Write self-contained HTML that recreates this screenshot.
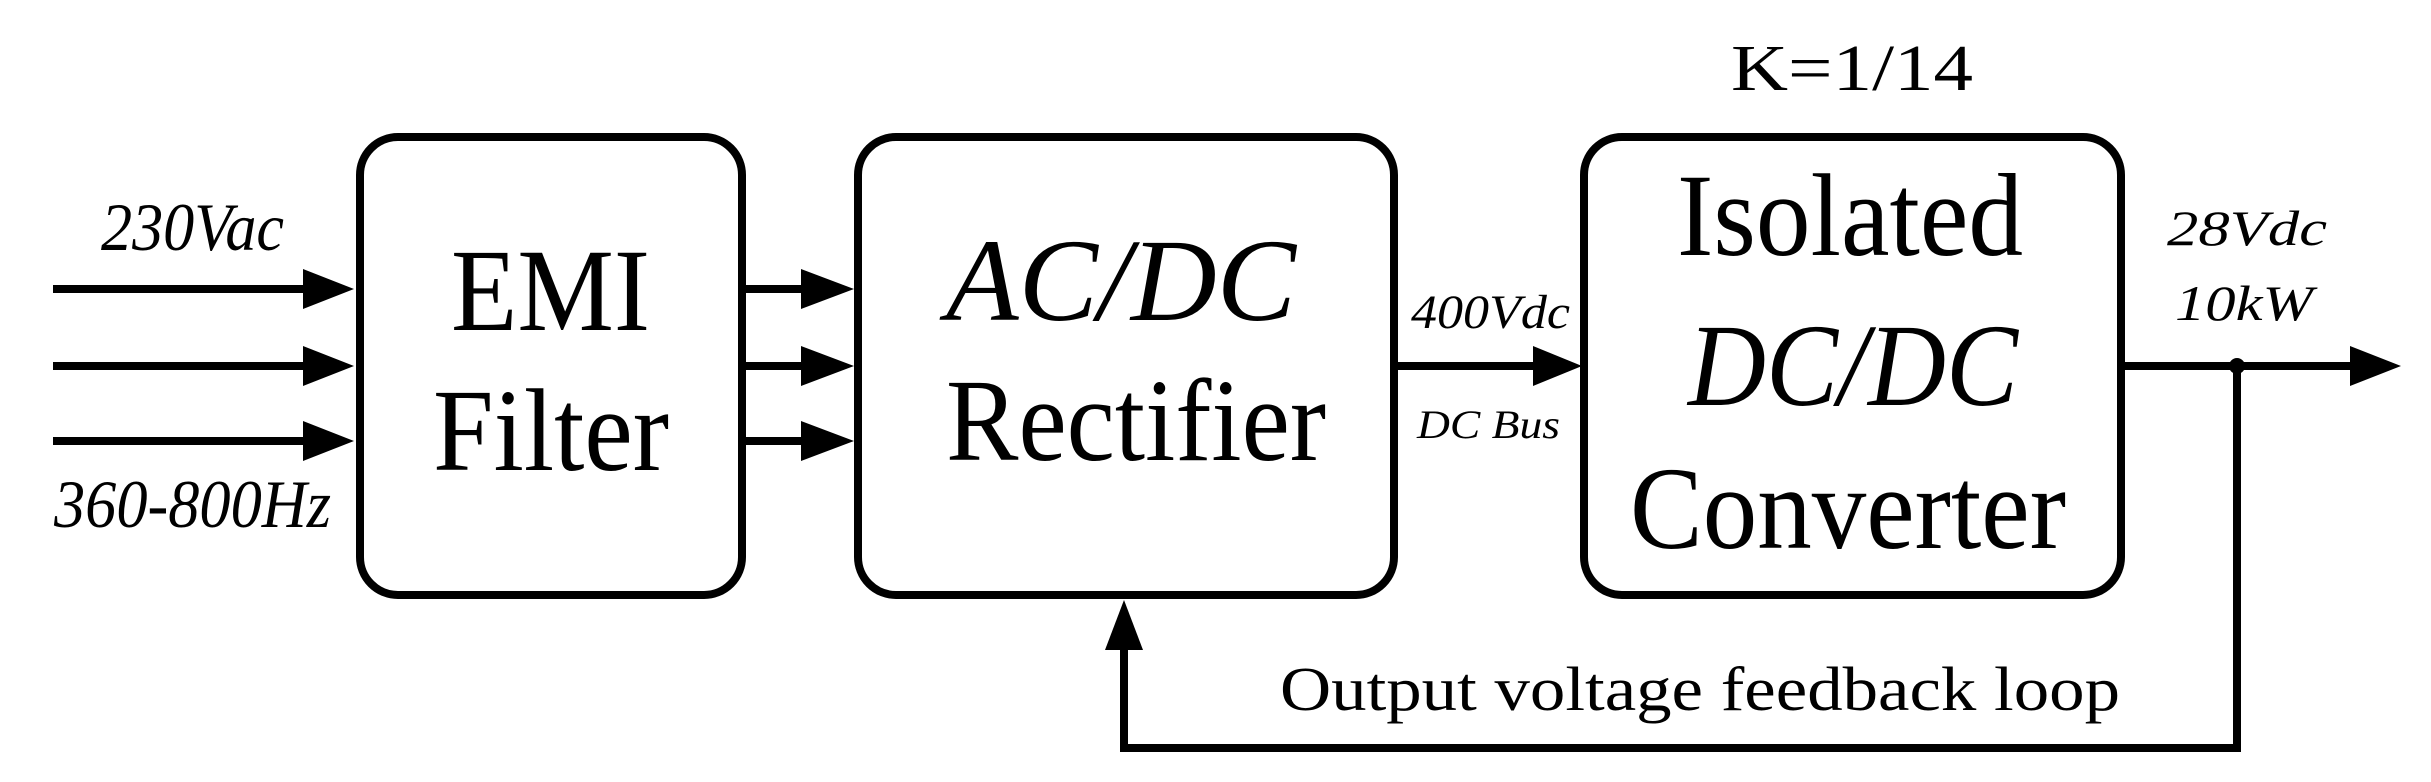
<!DOCTYPE html>
<html><head><meta charset="utf-8"><style>html,body{margin:0;padding:0;background:#fff}svg{display:block}svg text{font-family:"Liberation Serif","Times New Roman",serif}</style></head>
<body>
<svg width="2431" height="782" viewBox="0 0 2431 782" xmlns="http://www.w3.org/2000/svg" fill="#000">
<g fill="none" stroke="#000" stroke-width="8">
<rect x="360" y="137" width="382" height="458" rx="38"/>
<rect x="858" y="137" width="536" height="458" rx="38"/>
<rect x="1584" y="137" width="537" height="458" rx="38"/>
<path d="M53 289H310M53 366H310M53 441H310"/>
<path d="M745 289H806M745 366H806M745 441H806"/>
<path d="M1395 366H1538"/>
<path d="M2121 366H2356"/>
<path d="M2237 366V748H1124V645"/>
</g>
<g>
<polygon points="354,289 303,269 303,309"/>
<polygon points="354,366 303,346 303,386"/>
<polygon points="354,441 303,421 303,461"/>
<polygon points="854,289 801,269 801,309"/>
<polygon points="854,366 801,346 801,386"/>
<polygon points="854,441 801,421 801,461"/>
<polygon points="1582,366 1533,346 1533,386"/>
<polygon points="2401,366 2350,346 2350,386"/>
<polygon points="1124,600 1105,650 1143,650"/>
<circle cx="2237" cy="366" r="8"/>
</g>
<g font-style="italic">
<text x="101" y="250" font-size="68" textLength="183" lengthAdjust="spacingAndGlyphs">230Vac</text>
<text x="54" y="527" font-size="68" textLength="277" lengthAdjust="spacingAndGlyphs">360-800Hz</text>
<text x="946" y="320" font-size="118" textLength="350" lengthAdjust="spacingAndGlyphs">AC/DC</text>
<text x="1688" y="405" font-size="118" textLength="330" lengthAdjust="spacingAndGlyphs">DC/DC</text>
<text x="1411" y="328" font-size="48" textLength="159" lengthAdjust="spacingAndGlyphs">400Vdc</text>
<text x="1417" y="438" font-size="40" textLength="143" lengthAdjust="spacingAndGlyphs">DC Bus</text>
<text x="2167" y="245" font-size="50" textLength="160" lengthAdjust="spacingAndGlyphs">28Vdc</text>
<text x="2175" y="320" font-size="50" textLength="138" lengthAdjust="spacingAndGlyphs">10kW</text>
</g>
<text x="451" y="330" font-size="118" textLength="199" lengthAdjust="spacingAndGlyphs">EMI</text>
<text x="433" y="470" font-size="118" textLength="236" lengthAdjust="spacingAndGlyphs">Filter</text>
<text x="946" y="460" font-size="118" textLength="380" lengthAdjust="spacingAndGlyphs">Rectifier</text>
<text x="1677" y="255" font-size="118" textLength="346" lengthAdjust="spacingAndGlyphs">Isolated</text>
<text x="1630" y="548" font-size="118" textLength="436" lengthAdjust="spacingAndGlyphs">Converter</text>
<text x="1731" y="90" font-size="66" textLength="242" lengthAdjust="spacingAndGlyphs">K=1/14</text>
<text x="1280" y="710" font-size="62" textLength="840" lengthAdjust="spacingAndGlyphs">Output voltage feedback loop</text>
</svg>
</body></html>
